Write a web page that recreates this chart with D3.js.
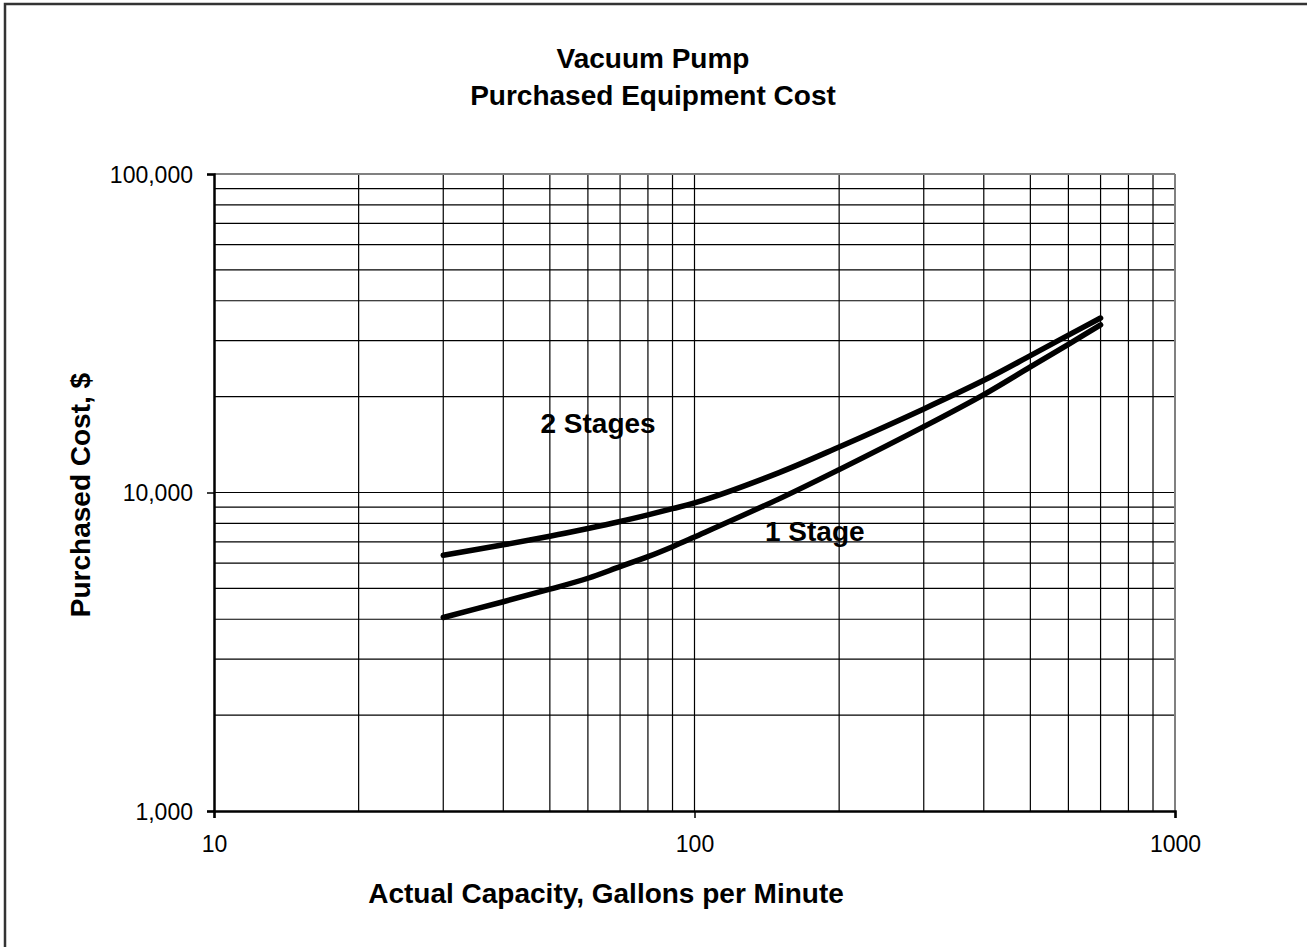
<!DOCTYPE html>
<html><head><meta charset="utf-8">
<script src="https://cdn.jsdelivr.net/npm/d3@7"></script>
<style>body{margin:0;background:#fff}svg{display:block}text{font-family:"Liberation Sans",Arial,sans-serif}</style>
</head><body>
<svg id="c" width="1307" height="947"></svg>
<script>
const capacity   = [30, 40, 50, 60, 70, 80, 90, 100, 150, 200, 300, 400, 500, 600, 700];
const oneStage   = [4050, 4540, 4970, 5380, 5850, 6290, 6760, 7250, 9550, 11800, 16100, 20300, 24800, 29200, 33600];
const twoStages  = [6350, 6850, 7290, 7710, 8110, 8510, 8900, 9270, 11550, 13900, 18300, 22500, 26900, 31200, 35300];
const xTicks = [10, 100, 1000];
const yTicks = [1000, 10000, 100000];
const seriesLabels = [
  {text: "2 Stages", x: 63, y: 15400},
  {text: "1 Stage", x: 178, y: 7050}
];
const titleLines = ["Vacuum Pump", "Purchased Equipment Cost"];
const xTitle = "Actual Capacity, Gallons per Minute";
const yTitle = "Purchased Cost, $";

const svg = d3.select("#c");
const L = 214, R = 1175, T = 174, B = 811;
const x = d3.scaleLog().domain([10, 1000]).range([L, R]);
const y = d3.scaleLog().domain([1000, 100000]).range([B, T]);

// outer border
svg.append("rect").attr("x", 5).attr("y", 4).attr("width", 1320).attr("height", 960)
  .attr("fill", "none").attr("stroke", "#333").attr("stroke-width", 2.5);

// gridlines
const xGrid = [], yGrid = [];
for (let d = 10; d < 1000; d *= 10) for (let k = 1; k <= 9; k++) xGrid.push(d * k);
for (let d = 1000; d < 100000; d *= 10) for (let k = 1; k <= 9; k++) yGrid.push(d * k);
const g = svg.append("g");
g.selectAll(".vx").data(xGrid.filter(v => v > 10)).enter().append("line")
  .attr("x1", d => x(d)).attr("x2", d => x(d)).attr("y1", T).attr("y2", B)
  .attr("stroke", "#000").attr("stroke-width", 1.2);
g.selectAll(".hy").data(yGrid.filter(v => v > 1000)).enter().append("line")
  .attr("y1", d => y(d)).attr("y2", d => y(d)).attr("x1", L).attr("x2", R)
  .attr("stroke", "#000").attr("stroke-width", 1.2);

// plot border top/right gray
svg.append("line").attr("x1", L).attr("x2", R).attr("y1", T).attr("y2", T).attr("stroke", "#808080").attr("stroke-width", 2);
svg.append("line").attr("x1", R).attr("x2", R).attr("y1", T).attr("y2", B).attr("stroke", "#808080").attr("stroke-width", 2);

// axes
const xAxis = d3.axisBottom(x).tickValues(xTicks).tickSize(7).tickPadding(14).tickFormat(d3.format("d"));
const yAxis = d3.axisLeft(y).tickValues(yTicks).tickSize(7).tickPadding(14).tickFormat(d3.format(","));
const gx = svg.append("g").attr("transform", `translate(0,${B})`).call(xAxis);
const gy = svg.append("g").attr("transform", `translate(${L},0)`).call(yAxis);
[gx, gy].forEach(a => {
  a.select(".domain").attr("stroke", "#000").attr("stroke-width", 2.5);
  a.selectAll(".tick line").attr("stroke", "#000").attr("stroke-width", 1.5);
  a.selectAll("text").attr("fill", "#000").style("font-size", "23px");
});
gy.selectAll("text").attr("dy", "0.35em");
gx.selectAll(".tick text").attr("dy", "0.85em");

// curves
const line = d3.line().x(d => x(d[0])).y(d => y(d[1])).curve(d3.curveCatmullRom.alpha(0.5));
[oneStage, twoStages].forEach(s => {
  svg.append("path").datum(capacity.map((c, i) => [c, s[i]])).attr("d", line)
    .attr("fill", "none").attr("stroke", "#000").attr("stroke-width", 5.5).attr("stroke-linecap", "round");
});

// series labels
svg.selectAll(".sl").data(seriesLabels).enter().append("text")
  .attr("x", d => x(d.x)).attr("y", d => y(d.y)).attr("text-anchor", "middle")
  .style("font-size", "28px").style("font-weight", "bold").text(d => d.text);

// titles
svg.selectAll(".tl").data(titleLines).enter().append("text")
  .attr("x", 653).attr("y", (d, i) => 68 + i * 37).attr("text-anchor", "middle")
  .style("font-size", "28px").style("font-weight", "bold").text(d => d);
svg.append("text").attr("x", 606).attr("y", 903).attr("text-anchor", "middle")
  .style("font-size", "28px").style("font-weight", "bold").text(xTitle);
svg.append("text").attr("transform", "translate(90,495) rotate(-90)").attr("text-anchor", "middle")
  .style("font-size", "28px").style("font-weight", "bold").text(yTitle);
</script>
</body></html>
